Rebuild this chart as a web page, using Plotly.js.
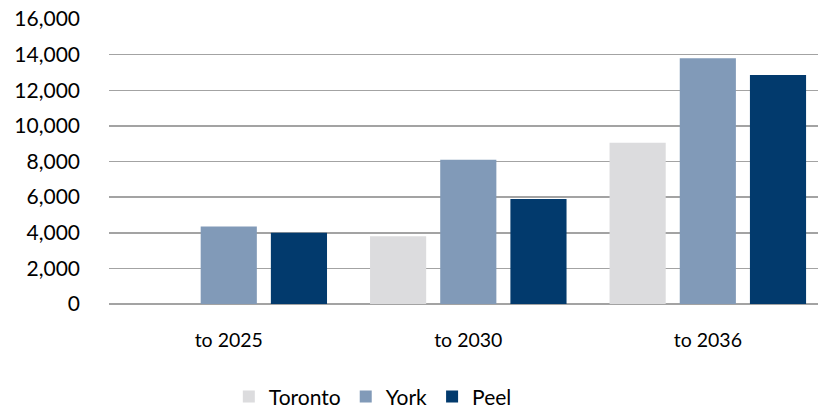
<!DOCTYPE html>
<html>
<head>
<meta charset="utf-8">
<script src="https://cdn.plot.ly/plotly-3.0.1.min.js"></script>
<style>html,body{margin:0;padding:0;background:#fff;}#chart{width:818px;height:412px;}</style>
</head>
<body>
<div id="chart"></div>
<script>
const categories = ["to 2025", "to 2030", "to 2036"];
const toronto = [null, 3800, 9050];
const york = [4350, 8100, 13800];
const peel = [4000, 5900, 12850];
const yTicks = [0, 2000, 4000, 6000, 8000, 10000, 12000, 14000, 16000];
const yTickLabels = ["0", "2,000", "4,000", "6,000", "8,000", "10,000", "12,000", "14,000", "16,000"];

const FONT = "Lato, 'Open Sans', sans-serif";
const traces = [
  {type: "bar", name: "Toronto", x: categories, y: toronto, marker: {color: "#DCDCDE"}},
  {type: "bar", name: "York", x: categories, y: york, marker: {color: "#819AB8"}},
  {type: "bar", name: "Peel", x: categories, y: peel, marker: {color: "#023A6D"}}
];
const layout = {
  width: 818, height: 412,
  margin: {l: 109, r: 0, t: 18.5, b: 107.5, autoexpand: false},
  paper_bgcolor: "#fff", plot_bgcolor: "#fff",
  font: {family: FONT, size: 19, color: "#000"},
  barmode: "group", bargap: 0.121, bargroupgap: 0.2,
  showlegend: true,
  legend: {orientation: "h", x: 0.169, xanchor: "left", y: -0.326, yanchor: "middle",
           font: {family: FONT, size: 21, color: "#000"}, traceorder: "normal", itemwidth: 30},
  xaxis: {type: "category", range: [-0.5, 2.46], showgrid: false, zeroline: false, automargin: false,
          showline: false, ticks: "", tickfont: {family: FONT, size: 19.5, color: "#000"}, ticklabelstandoff: 22},
  yaxis: {range: [0, 16000], tickmode: "array", tickvals: yTicks, ticktext: yTickLabels, automargin: false,
          showgrid: true, gridcolor: "#A3A3A3", gridwidth: 1.5, zeroline: true,
          zerolinecolor: "#A3A3A3", zerolinewidth: 1.5, showline: false, ticks: "",
          tickfont: {family: FONT, size: 21, color: "#000"}, ticklabelstandoff: 28}
};
Plotly.newPlot("chart", traces, layout, {displayModeBar: false, staticPlot: true});
</script>
</body>
</html>
